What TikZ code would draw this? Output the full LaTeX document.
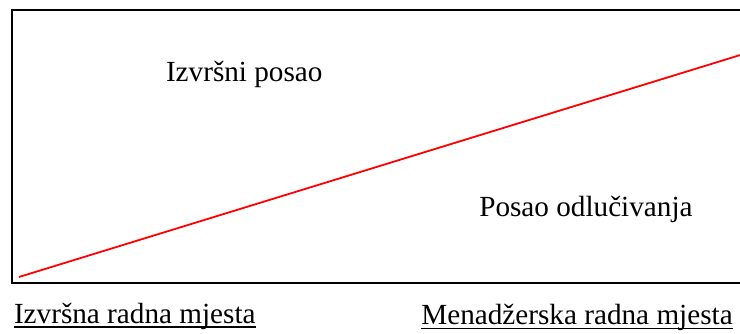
\documentclass[tikz,border=0pt]{standalone}
\usepackage{fontspec}
\setmainfont{Liberation Serif}
\begin{document}
\begin{tikzpicture}[x=1pt,y=-1pt,
  lbl/.style={inner sep=0pt,outer sep=0pt,anchor=base west,font=\fontsize{29.2}{34}\selectfont},
  frame/.style={draw=black,line width=2.4pt},
  trend/.style={draw=red,line width=1.8pt},
  uline/.style={draw=black,line width=1.4pt}]
\useasboundingbox (0,0) rectangle (740,334);
\coordinate (tr) at (742,10);
\coordinate (tl) at (12,10);
\coordinate (bl) at (12,283);
\coordinate (br) at (742,283);
\draw[frame] (tr) -- (tl) -- (bl) -- (br);
\coordinate (ls) at (19,277);
\coordinate (le) at (742,54.5);
\draw[trend] (ls) -- (le);
\node[lbl] (ip) at (166,81.7) {Izvršni posao};
\node[lbl] (po) at (479.3,216.7) {Posao odlučivanja};
\node[lbl] (irm) at (14,323.3) {Izvršna radna mjesta};
\node[lbl,anchor=base east] (mrm) at (732.7,324.3) {Menadžerska radna mjesta};
\draw[uline] ([yshift=-3.8pt]irm.base west) -- ([yshift=-3.8pt]irm.base east);
\draw[uline] ([yshift=-4.3pt]mrm.base west) -- ([yshift=-4.3pt]mrm.base east);
\end{tikzpicture}
\end{document}
